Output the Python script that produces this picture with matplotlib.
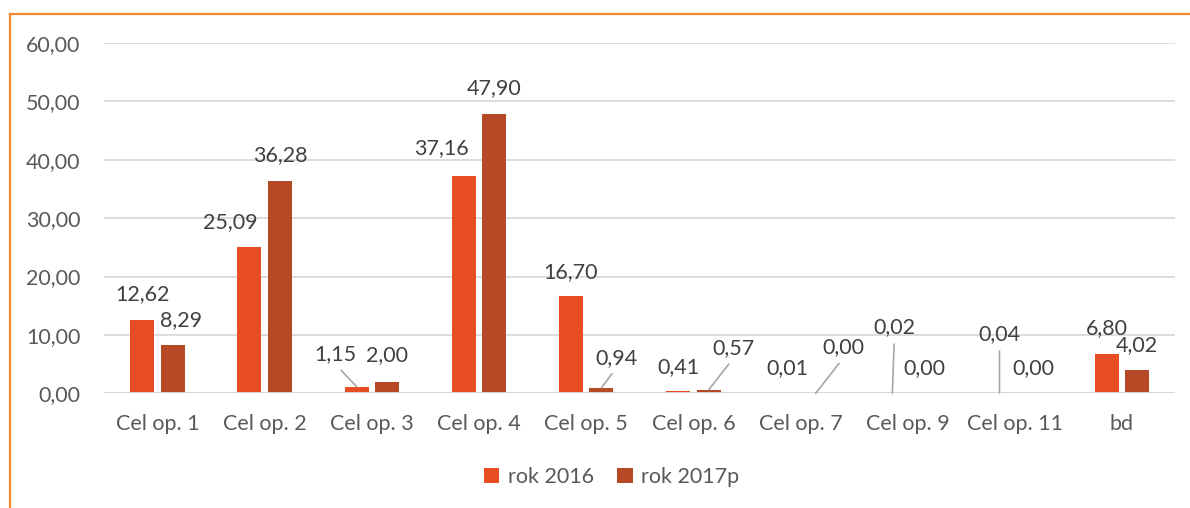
import matplotlib.pyplot as plt
from matplotlib.lines import Line2D
import numpy as np

plt.rcParams['font.family'] = ['Lato', 'DejaVu Sans']

categories = ['Cel op. 1', 'Cel op. 2', 'Cel op. 3', 'Cel op. 4', 'Cel op. 5',
              'Cel op. 6', 'Cel op. 7', 'Cel op. 9', 'Cel op. 11', 'bd']
rok_2016 = [12.62, 25.09, 1.15, 37.16, 16.70, 0.41, 0.01, 0.02, 0.04, 6.80]
rok_2017p = [8.29, 36.28, 2.00, 47.90, 0.94, 0.57, 0.00, 0.00, 0.00, 4.02]
series_names = ['rok 2016', 'rok 2017p']
y_ticks = [0, 10, 20, 30, 40, 50, 60]

# label placement: pixel offset from bar top, and whether a leader line is drawn
place_2016 = [(0, 26, False), (-19, 25, False), (-21, 32, True), (-22, 28, False),
              (0, 24, False), (0, 24, False), (2, 25, False), (2, 66, True),
              (0, 59, True), (0, 25, False)]
place_2017 = [(8, 25, False), (0, 26, False), (0, 27, False), (0, 26, False),
              (15, 30, True), (25, 42, True), (28, 46, True), (2, 25, False),
              (3, 25, False), (0, 25, False)]

c2016 = '#E84C22'
c2017 = '#B64926'
grid_c = '#D9D9D9'
txt_c = '#404040'
tick_c = '#595959'
frame_c = '#F58A33'
fs = 15.5

fig = plt.figure(figsize=(11.9, 5.08), dpi=100)
ax = fig.add_axes([0.0874, 0.2258, 0.9004, 0.6896])

x = np.arange(len(categories))
w = 0.224
off = 0.1424
ax.bar(x - off, rok_2016, w, color=c2016, label=series_names[0], zorder=3)
ax.bar(x + off, rok_2017p, w, color=c2017, label=series_names[1], zorder=3)

ax.set_xlim(-0.5, len(categories) - 0.5)
ax.set_ylim(0, 60)
ax.set_yticks(y_ticks)
ax.set_yticklabels([f'{t:.2f}'.replace('.', ',') for t in y_ticks])
ax.set_xticks(x)
ax.set_xticklabels(categories)
ax.tick_params(axis='both', length=0, labelsize=fs, colors=tick_c)
ax.tick_params(axis='y', pad=17)
ax.tick_params(axis='x', pad=15)
ax.yaxis.grid(True, color=grid_c, lw=1.3, zorder=0)
for s in ax.spines.values():
    s.set_visible(False)
ax.axhline(0, color=grid_c, lw=1.3, zorder=4)


def fmt(v):
    return f'{v:.2f}'.replace('.', ',')


for xs, vals, places in [(x - off, rok_2016, place_2016), (x + off, rok_2017p, place_2017)]:
    for xi, v, (dx, dy, leader) in zip(xs, vals, places):
        kw = {}
        if leader:
            kw['arrowprops'] = dict(arrowstyle='-', color='#A6A6A6', lw=1.2,
                                    shrinkA=3, shrinkB=0, relpos=(0.5, 0))
        ax.annotate(fmt(v), xy=(xi, v), xytext=(dx, dy), textcoords='offset pixels',
                    ha='center', va='center', fontsize=fs, color=txt_c, zorder=5, **kw)

fig.legend(loc='center', bbox_to_anchor=(0.514, 0.061), ncol=2, frameon=False,
           fontsize=fs, labelcolor=tick_c, handlelength=0.7, handleheight=0.7,
           handletextpad=0.4, columnspacing=1.1)

# orange frame on the top and left edge
fig.add_artist(Line2D([10 / 1190, 1], [1 - 14 / 508, 1 - 14 / 508],
                      transform=fig.transFigure, color=frame_c, lw=1.6))
fig.add_artist(Line2D([10 / 1190, 10 / 1190], [0, 1 - 14 / 508],
                      transform=fig.transFigure, color=frame_c, lw=1.6))

fig.savefig('out.png', dpi=100)
